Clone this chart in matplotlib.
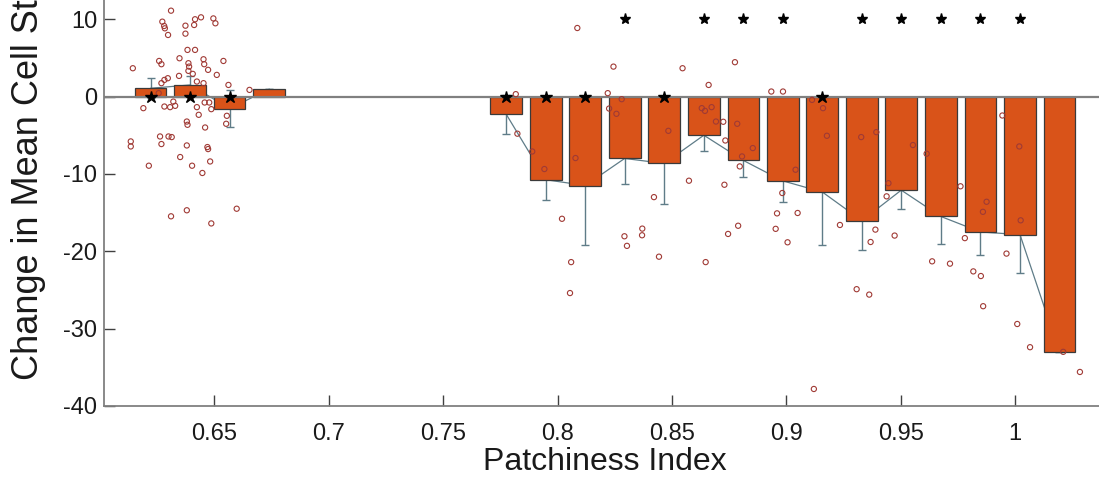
import numpy as np
import matplotlib
matplotlib.use("Agg")
from matplotlib import pyplot as plt

plt.rcParams['font.family'] = ['Liberation Sans', 'DejaVu Sans']
plt.rcParams['axes.unicode_minus'] = False

# bin centres (patchiness index), empty bins are nan
bin_x = [0.6221, 0.6394, 0.6566, 0.6739, 0.6912, 0.7085, 0.7257, 0.7430, 0.7603,
         0.7775, 0.7948, 0.8121, 0.8293, 0.8466, 0.8639, 0.8812, 0.8984, 0.9157,
         0.9330, 0.9502, 0.9675, 0.9848, 1.0021, 1.0193]
bin_mean = [1.07, 1.5, -1.55, 0.95, np.nan, np.nan, np.nan, np.nan, np.nan,
            -2.28, -10.75, -11.5, -8.0, -8.65, -5.0, -8.26, -10.9, -12.34,
            -16.04, -12.1, -15.5, -17.5, -17.85, -33.0]
bin_err = [1.3, 1.17, 2.4, 0, np.nan, np.nan, np.nan, np.nan, np.nan,
           2.5, 2.6, 7.7, 3.3, 5.2, 2.1, 2.2, 2.7, 6.9,
           3.8, 2.4, 3.5, 3.0, 4.9, 0]
# 1 = star at zero (n.s.), 2 = star at top, 0 = none
star_type = [1, 1, 1, 0, 0, 0, 0, 0, 0,
             1, 1, 1, 2, 1, 2, 2, 2, 1,
             2, 2, 2, 2, 2, 0]

left_x = [0.6143, 0.6134, 0.6134, 0.6189, 0.6213, 0.6258, 0.6268, 0.6272, 0.628, 0.6283,
          0.6297, 0.631, 0.6262, 0.6268, 0.6299, 0.6313, 0.6281, 0.6306, 0.6296, 0.6281,
          0.6268, 0.631, 0.6347, 0.635, 0.6373, 0.6373, 0.6382, 0.6415, 0.6386, 0.6389,
          0.6386, 0.6405, 0.6379, 0.6382, 0.6379, 0.6402, 0.6411, 0.6415, 0.6441, 0.6447,
          0.6452, 0.6455, 0.6472, 0.6459, 0.6423, 0.6431, 0.6457, 0.6477, 0.6469, 0.6472,
          0.6481, 0.6486, 0.6495, 0.6504, 0.651, 0.6539, 0.6561, 0.6554, 0.6551, 0.6597,
          0.6486, 0.6379, 0.6653, 0.6423, 0.6345, 0.6256, 0.6452, 0.6328, 0.632]
left_y = [3.66, -5.8, -6.45, -1.5, -8.94, 4.6, 4.18, 9.68, 9.12, 8.82,
          7.96, 11.1, -5.16, -6.14, -5.16, -5.24, -1.29, -1.37, 2.37, 2.15,
          1.73, -15.48, 4.95, -7.82, 9.16, 8.13, 6.03, 6.03, 4.31, 3.87,
          3.32, 2.93, -3.23, -3.65, -6.32, -8.94, 9.25, 9.99, 10.24, -9.88,
          4.82, 4.18, 3.45, -4.0, -1.37, -2.36, -0.77, -0.77, -6.53, -6.79,
          -8.39, -1.63, 10.1, 9.47, 2.8, 4.6, 1.5, -2.49, -3.52, -14.5,
          -16.4, -14.7, 0.86, 1.94, 2.67, 0.44, 1.73, -1.2, -0.65]

right_x = [0.7817, 0.7824, 0.7889, 0.7942, 0.8086, 0.8078, 0.8244, 0.8219, 0.8225, 0.828,
           0.8257, 0.8484, 0.8421, 0.8546, 0.8574, 0.8019, 0.8292, 0.837, 0.8369, 0.866,
           0.863, 0.8644, 0.8673, 0.8692, 0.8724, 0.8733, 0.8729, 0.8775, 0.8785, 0.8853,
           0.8806, 0.8796, 0.8789, 0.8745, 0.8934, 0.8985, 0.904, 0.8982, 0.8959, 0.9049,
           0.8953, 0.9112, 0.916, 0.9177, 0.9327, 0.9393, 0.9553, 0.9613, 0.9761, 0.9875,
           0.9859, 0.9944, 1.0018, 1.0024, 0.9234, 0.9389, 0.9473, 0.9005, 0.9368, 0.9307,
           0.9362, 0.9637, 0.9715, 0.978, 0.9817, 0.985, 0.986, 0.9962, 1.0009, 1.0065,
           1.021, 1.0283, 0.912, 0.8059, 0.8054, 0.8303, 0.8443, 0.8647, 0.9438, 0.9446]
right_y = [0.31, -4.8, -7.1, -9.37, 8.86, -7.95, 3.87, 0.44, -1.55, -0.34,
           -2.23, -4.43, -13.0, 3.66, -10.88, -15.8, -18.06, -17.07, -17.93, 1.5,
           -1.5, -1.85, -1.37, -3.23, -3.26, -5.68, -11.4, 4.44, -3.52, -6.66,
           -7.74, -9.03, -16.7, -17.76, 0.65, 0.65, -9.46, -12.47, -15.1, -15.05,
           -17.1, -0.43, -1.5, -5.07, -5.24, -4.6, -6.27, -7.39, -11.6, -13.6,
           -14.9, -2.45, -6.45, -16.0, -16.6, -17.2, -17.97, -18.84, -18.8, -24.9,
           -25.6, -21.3, -21.6, -18.3, -22.6, -23.2, -27.1, -20.3, -29.4, -32.4,
           -33.0, -35.6, -37.8, -21.4, -25.4, -19.3, -20.7, -21.4, -12.9, -11.2]

xticks = [0.65, 0.7, 0.75, 0.8, 0.85, 0.9, 0.95, 1.0]
xtick_labels = ['0.65', '0.7', '0.75', '0.8', '0.85', '0.9', '0.95', '1']
yticks = [-40, -30, -20, -10, 0, 10]

bx = np.array(bin_x)
bm = np.array(bin_mean)
be = np.array(bin_err)
st = np.array(star_type)
ok = ~np.isnan(bm)
step = bx[1] - bx[0]

fig = plt.figure(figsize=(10.99, 4.8), dpi=100)
ax = fig.add_axes([104 / 1099, 74 / 480, (1106 - 104) / 1099, 406 / 480])

# error bars + connecting line (behind the bars)
ax.errorbar(bx, bm, yerr=be, color='#5f7c88', lw=0.9, elinewidth=1.0,
            capsize=3, capthick=1.0, zorder=1)
ax.bar(bx[ok], bm[ok], width=0.8 * step, color='#D95319',
       edgecolor='#3a3a3a', linewidth=0.9, zorder=2)
ax.axhline(0, color='#808080', lw=1.6, zorder=3)

ax.scatter(left_x, left_y, s=14, facecolors='none', edgecolors='#a03a35',
           linewidths=0.8, zorder=4)
ax.scatter(right_x, right_y, s=14, facecolors='none', edgecolors='#a03a35',
           linewidths=0.8, zorder=4)

ax.plot(bx[st == 1], np.zeros((st == 1).sum()), '*', color='black',
        markersize=9, zorder=5)
ax.plot(bx[st == 2], np.full((st == 2).sum(), 10.0), '*', color='black',
        markersize=8, zorder=5)

ax.set_xlim(0.6017, 1.0397)
ax.set_ylim(-40, 12.48)
ax.set_xticks(xticks)
ax.set_xticklabels(xtick_labels)
ax.set_yticks(yticks)
ax.tick_params(direction='in', length=8, width=1, color='#404040',
               labelsize=17, labelcolor='#1a1a1a')
ax.tick_params(axis='x', pad=12)
ax.tick_params(axis='y', pad=5)
for side in ['top', 'right']:
    ax.spines[side].set_visible(False)
for side in ['left', 'bottom']:
    ax.spines[side].set_color('#808080')
    ax.spines[side].set_linewidth(1.3)

ax.set_xlabel('Patchiness Index', fontsize=23, color='#1a1a1a', labelpad=2)
fig.text(29 / 1099, 100 / 480, 'Change in Mean Cell St', rotation=90,
         rotation_mode='anchor', ha='left', va='center', fontsize=26,
         color='#1a1a1a')

fig.savefig('out.png', dpi=100)
